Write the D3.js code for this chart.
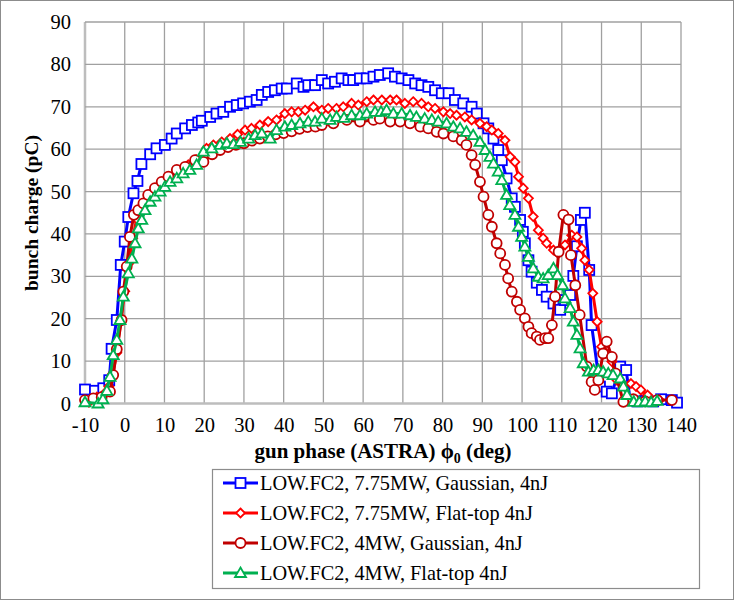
<!DOCTYPE html>
<html><head><meta charset="utf-8">
<script src="https://cdn.jsdelivr.net/npm/d3@7"></script>
<style>body{margin:0;background:#fff}svg{display:block}</style>
</head><body>
<svg id="c" width="734" height="600"></svg>
<script>
const xTicks = [-10,0,10,20,30,40,50,60,70,80,90,100,110,120,130,140];
const yTicks = [0,10,20,30,40,50,60,70,80,90];

const blueX = [-10,-7.5,-5.4,-3.9,-3.3,-2,-1,0,0.9,2.2,3.2,4.2,6.4,8,10.1,11.8,13.1,15.2,16.9,18.5,19.4,21.5,23.1,24.8,26.5,28.2,29.8,31.5,33.2,34.5,36.1,37.8,39.5,40.8,43.3,45,46.2,47.9,49.6,51.2,52.9,54.6,56.3,57.5,59.2,60.9,62.6,64.2,66.3,68,69.7,71.4,73.1,74.7,76.4,78.1,79.8,81.5,83.1,85.2,87.3,88.6,90.3,91.5,92.8,94,94.9,96.1,97.4,98.2,99.5,100.2,100.7,101.6,102.4,103.7,105,106.2,107.9,109.6,110.8,112.1,112.9,113.8,114.8,115.8,116.9,117.5,119.6,121.3,122.6,124.7,126.2,127.2,129,131,133,135,137.7,139];
const blueY = [3.3,3.0,3.6,5.5,12.9,19.7,32.7,38.2,44,49.6,52.5,56.5,58.8,60.2,61,62.5,63.7,64.9,65.7,66.3,66.7,67.6,68.4,68.8,70,70.4,70.8,71.2,71.6,72.8,73.5,73.9,74.3,74.3,75.5,74.7,75.1,75.1,76.3,75.5,75.9,76.7,76.3,76.3,76.7,76.7,77.1,77.5,77.9,77.1,76.7,76.3,75.5,75.1,74.7,73.9,73.2,73.2,71.6,70.8,70,68.4,66.1,64.9,62.5,59.8,57.4,53.1,48.4,46.4,43.3,40.5,37.8,33.8,31.1,28.5,26.8,25.2,23.6,22.1,24.4,25.6,30.1,37.1,43.3,45.0,31.5,18.5,4.0,2.8,2.4,8.7,7.9,0.8,0.5,0.6,0.5,1.0,0.8,0.2];

const redX = [-9,-7,-5,-4,-3,-2,-1,0,1,2,3,4,5,6.5,8,10,12,14,16,18,20.6,22.3,24.4,26.5,28.4,30.3,31.9,34,36.1,38.2,40.3,42,43.7,45.4,47.5,49.6,51.2,53.3,55,57.1,58.8,60.9,62.6,64.7,66.8,68.4,70.5,72.6,74.7,76.4,78.1,80.2,81.9,83.5,85.6,87.3,89.4,91.1,92.4,94,95.7,97,98.2,99.1,100.3,101.6,102.8,104.1,105.3,106.2,107.9,109.1,110.8,112.5,113.8,115,115.8,116.9,117.8,118.9,120,121,122.6,123.9,125.5,127.4,128.7,129.9,131.6,134.6];
const redY = [0.3,1.5,2.5,4,7,12,19.5,26.5,33,39,43.5,46,47.5,49.2,50.8,52.3,53.5,55,56.3,57.5,60.2,61,61.7,62.5,63.5,64.5,64.9,65.7,66.5,66.9,68.4,68.8,68.8,69.2,70,69.2,69.6,69.6,70,70.8,70.4,71.2,71.6,71.6,71.6,71.6,70.8,71.2,70.8,70,69.6,68.8,68.4,68,67.6,66.9,66.1,65.3,64.5,63.7,62.1,58.2,57,53.5,50.8,48.4,44.1,40.9,39,37.8,36.2,35.4,37.4,39.7,39.3,36.6,33.8,31.5,26,19.3,13.4,12,9.9,5.5,4.5,4.7,4.0,3.2,2.0,0.8];

const darkX = [-10,-7.9,-5.8,-3.7,-2.9,-2,-0.8,-0.35,0.5,1.3,2.3,3.4,4.7,5.9,7.6,9.3,11,13.1,15.2,17.7,19.8,22,24,26,28,30,32,34,36,38,40,42,44,46,48,49.6,52.5,55.9,59.2,62.6,64.2,66.8,69.3,71.8,74.4,76.4,78.5,80.2,82.7,84.8,86,87.3,88.2,89.4,90.3,91.5,92.4,93.6,94.5,95.7,96.5,97.4,98.7,99.5,100.7,101.6,102.4,103.7,104.5,105.8,106.6,107.5,108.3,109.2,110.4,111.7,112.3,113.4,114.5,116.3,117.5,118.3,119.2,120.4,121.3,122.6,123.5,125.5,128,131,134,137.7];
const darkY = [0.8,1.2,1.5,2.8,6.7,12.8,19.7,26.4,32.3,39.3,44.5,45.6,47.2,49.2,50.8,52.3,53.5,55.1,55.8,57.4,57.0,58.8,59.8,60.5,61.0,61.4,62.0,62.5,63.0,63.5,63.8,64.2,64.8,65.2,65.3,65.7,66.1,66.9,66.5,66.9,67.2,66.5,66.5,66.1,65.3,64.9,64.1,63.7,63.0,62.1,61,58.6,56.3,52.3,48.8,44.5,41.7,37.8,35.4,32.7,29.5,26.4,24,22.1,20.1,18.1,16.6,15.8,15.0,15.4,15.4,18.5,25.2,35.8,44.5,43.4,35,27.9,20.9,8.7,5.1,3.2,5.5,11.8,14.6,11,7.1,0.4,1,0.5,0.8,0.8];

const greenX = [-10,-6.7,-5.5,-4.5,-3.7,-2.9,-2,-1.2,-0.35,0.9,1.8,2.6,3.4,4.3,5.1,6.4,7.6,8.9,10.1,11.4,13.1,14.7,16.4,18.1,19.8,21.9,24,25.7,27.4,29.1,31.2,32.8,34.5,36.6,38.2,40.3,42,44.1,46.2,47.9,49.6,51.7,53.3,55.2,57.1,59.2,60.9,63,64.5,65.9,67.6,69.7,71.8,73.4,75.5,77.3,78.9,81,82.7,84.4,86,87.7,89.4,90.7,91.9,92.8,94,94.9,96.1,96.9,98.2,99.1,99.9,100.7,101.6,102.8,104.1,105.3,106.6,107.9,108.9,110.2,110.8,112.1,112.9,113.8,114.6,115.4,116.7,118,119.2,120.4,121.7,122.9,124.7,125.5,126.4,128.1,129.5,131,132.5,134];
const greenY = [0.3,0,1,3,6.3,11.4,15,19.7,25.2,30.7,34.2,37.8,41.3,43.3,45.6,47.6,48.8,50,51.1,52.3,53.1,54.3,55.1,56.3,59.4,60.2,61,61.4,61.2,61.7,62.5,63.3,63.7,62.5,64.5,65.3,65.7,66.1,66.5,66.5,67.2,66.9,67.6,67.4,68,68,68.4,68.8,68.8,69.2,68.4,68.4,68,67.6,67.2,66.9,66.5,66.1,65.3,64.9,64.1,63.3,61.7,59.8,58.2,56.6,54.7,52.7,49.2,46.8,44.5,41.7,39.3,37,34.6,31.9,29.9,29.5,30.3,31.9,30.3,27.9,24.8,22.5,19.3,16.2,13,9.5,7.5,7.9,7.9,7.5,7.1,6.7,5.9,4,2,0.4,0.3,0.5,0.3,0.6];

const seriesNames = ["LOW.FC2, 7.75MW, Gaussian, 4nJ","LOW.FC2, 7.75MW, Flat-top 4nJ","LOW.FC2, 4MW, Gaussian, 4nJ","LOW.FC2, 4MW, Flat-top 4nJ"];
const seriesColors = ["#0000FF","#FF0000","#C00000","#00B050"];
const seriesMarkers = ["square","diamond","circle","triangle"];
const seriesXs = [blueX, redX, darkX, greenX];
const seriesYs = [blueY, redY, darkY, greenY];

const svg = d3.select("#c");
const font = "'Liberation Serif','Times New Roman',serif";
svg.append("rect").attr("x",0.5).attr("y",0.5).attr("width",733).attr("height",599)
  .attr("fill","#fff").attr("stroke","#8c8c8c").attr("stroke-width",1);

const x = d3.scaleLinear().domain([-10,140]).range([85,681]);
const y = d3.scaleLinear().domain([0,90]).range([403.5,22]);

// gridlines
const g = svg.append("g");
g.selectAll("line.v").data(xTicks).enter().append("line")
  .attr("x1",d=>x(d)).attr("x2",d=>x(d)).attr("y1",y(0)).attr("y2",y(90))
  .attr("stroke",d=>d===-10?"#bdbdbd":"#a0a0a0").attr("stroke-width",d=>d===-10?2.5:1.3);
g.selectAll("line.h").data(yTicks).enter().append("line")
  .attr("x1",x(-10)).attr("x2",x(140)).attr("y1",d=>y(d)).attr("y2",d=>y(d))
  .attr("stroke",d=>d===0?"#bdbdbd":"#a0a0a0").attr("stroke-width",d=>d===0?2.5:1.3);

// axes labels via d3 axes
const xAxis = svg.append("g").attr("transform",`translate(0,${y(0)})`)
  .call(d3.axisBottom(x).tickValues(xTicks).tickFormat(d=>String(d)).tickSize(0).tickPadding(14));
const yAxis = svg.append("g").attr("transform",`translate(${x(-10)},0)`)
  .call(d3.axisLeft(y).tickValues(yTicks).tickFormat(d=>String(d)).tickSize(0).tickPadding(14));
[xAxis,yAxis].forEach(a=>{
  a.select(".domain").remove();
  a.selectAll("text").attr("font-family",font).attr("font-size",20.5).attr("fill","#000");
});

// titles
const xt = svg.append("text").attr("x",383).attr("y",458).attr("text-anchor","middle")
  .attr("font-family",font).attr("font-size",21).attr("font-weight","bold");
xt.append("tspan").text("gun phase (ASTRA) \u03D5");
xt.append("tspan").attr("font-size",14).attr("dy",5).text("0");
xt.append("tspan").attr("dy",-5).text(" (deg)");
svg.append("text").attr("transform","translate(38,213) rotate(-90)").attr("text-anchor","middle")
  .attr("font-family",font).attr("font-size",19.5).attr("font-weight","bold").text("bunch charge (pC)");

function drawMarker(sel, type, color){
  sel.each(function(){
    const s = d3.select(this);
    if(type==="square") s.append("rect").attr("x",-5).attr("y",-5).attr("width",10).attr("height",10);
    else if(type==="circle") s.append("circle").attr("r",5);
    else if(type==="diamond") s.append("path").attr("d","M0,-4.5L4.5,0L0,4.5L-4.5,0Z");
    else s.append("path").attr("d","M0,-5.5L5.5,4L-5.5,4Z");
  });
  sel.selectAll("rect,circle,path").attr("fill","#fff").attr("stroke",color).attr("stroke-width",1.8);
}

const plot = svg.append("g");
seriesNames.forEach((name,i)=>{
  const pts = seriesXs[i].map((v,j)=>[v, seriesYs[i][j]]);
  const line = d3.line().x(d=>x(d[0])).y(d=>y(d[1]));
  const sg = plot.append("g");
  sg.append("path").attr("d",line(pts)).attr("fill","none").attr("stroke",seriesColors[i])
    .attr("stroke-width",3).attr("stroke-linejoin","round");
  const m = sg.selectAll("g.m").data(pts).enter().append("g")
    .attr("transform",d=>`translate(${x(d[0])},${y(d[1])})`);
  drawMarker(m, seriesMarkers[i], seriesColors[i]);
});

// legend
const lg = svg.append("g");
lg.append("rect").attr("x",212.5).attr("y",469.5).attr("width",487).attr("height",119)
  .attr("fill","#fff").attr("stroke","#8c8c8c").attr("stroke-width",1.2);
seriesNames.forEach((name,i)=>{
  const cy = 483 + i*30;
  lg.append("line").attr("x1",223).attr("x2",258).attr("y1",cy).attr("y2",cy)
    .attr("stroke",seriesColors[i]).attr("stroke-width",3);
  const m = lg.append("g").attr("transform",`translate(240.5,${cy})`);
  drawMarker(m, seriesMarkers[i], seriesColors[i]);
  lg.append("text").attr("x",260).attr("y",cy+7).attr("font-family",font).attr("font-size",20.3)
    .attr("fill","#000").text(name);
});
</script>
</body></html>
